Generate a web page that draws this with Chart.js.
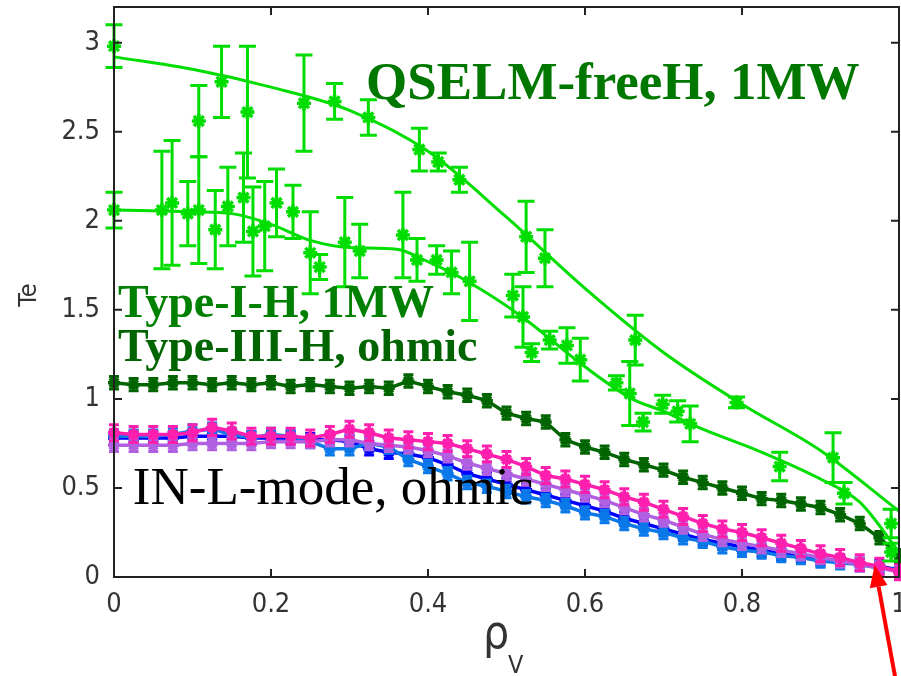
<!DOCTYPE html>
<html>
<head>
<meta charset="utf-8">
<script src="https://cdn.jsdelivr.net/npm/chart.js@4/dist/chart.umd.min.js"></script>
<style>
  html, body { margin: 0; padding: 0; background: #fff; }
  #wrap { width: 901px; height: 676px; }
</style>
</head>
<body>
<div id="wrap"><canvas id="teChart" width="901" height="676"></canvas></div>
<script>
// Perfis de Te vs rho_V
const xTicks = [0, 0.2, 0.4, 0.6, 0.8, 1];
const yTicks = [0, 0.5, 1, 1.5, 2, 2.5, 3];

// QSELM-free H-mode, 1MW (pontos com barras de erro + ajuste)
const rhoQselm = [0, 0.108, 0.137, 0.17, 0.242, 0.281, 0.324, 0.389, 0.413, 0.44, 0.525, 0.549, 0.664, 0.793, 0.916, 0.99];
const teQselm  = [2.98, 2.56, 2.78, 2.61, 2.66, 2.67, 2.58, 2.40, 2.33, 2.23, 1.91, 1.79, 1.33, 0.98, 0.67, 0.30];
const errQselm = [0.12, 0.20, 0.20, 0.37, 0.27, 0.10, 0.10, 0.12, 0.05, 0.07, 0.20, 0.16, 0.14, 0.03, 0.14, 0.08];
const rhoFitQselm = [0, 0.1, 0.2, 0.3, 0.4, 0.5, 0.6, 0.7, 0.8, 0.9, 1.0];
const teFitQselm  = [2.92, 2.85, 2.75, 2.62, 2.39, 2.02, 1.62, 1.26, 0.97, 0.71, 0.37];

// Type-I ELMy H-mode, 1MW
const rhoTypeI = [0, 0.061, 0.074, 0.094, 0.108, 0.129, 0.145, 0.165, 0.177, 0.192, 0.207, 0.228, 0.25, 0.262, 0.294, 0.313, 0.368, 0.386, 0.411, 0.43, 0.453, 0.508, 0.521, 0.532, 0.555, 0.577, 0.594, 0.64, 0.657, 0.674, 0.699, 0.718, 0.734, 0.848, 0.93, 0.99];
const teTypeI  = [2.06, 2.06, 2.10, 2.04, 2.06, 1.95, 2.08, 2.13, 1.94, 1.97, 2.10, 2.05, 1.82, 1.74, 1.88, 1.83, 1.92, 1.78, 1.78, 1.71, 1.66, 1.58, 1.46, 1.26, 1.33, 1.30, 1.22, 1.09, 1.03, 0.87, 0.97, 0.93, 0.86, 0.62, 0.47, 0.14];
const errTypeI = [0.10, 0.33, 0.35, 0.18, 0.30, 0.22, 0.22, 0.25, 0.25, 0.25, 0.19, 0.15, 0.23, 0.07, 0.25, 0.15, 0.24, 0.12, 0.08, 0.12, 0.22, 0.12, 0.17, 0.05, 0.05, 0.10, 0.12, 0.04, 0.18, 0.05, 0.05, 0.06, 0.10, 0.08, 0.06, 0.05];
const rhoFitTypeI = [0, 0.1, 0.15, 0.2, 0.25, 0.3, 0.36, 0.4, 0.45, 0.52, 0.6, 0.66, 0.7, 0.75, 0.82, 0.9, 0.95, 1.0];
const teFitTypeI  = [2.06, 2.05, 2.04, 1.98, 1.89, 1.85, 1.84, 1.77, 1.66, 1.46, 1.18, 1.00, 0.93, 0.83, 0.71, 0.55, 0.42, 0.14];

// perfis densos (ohmicos)
const rhoDense = [0, 0.025, 0.05, 0.075, 0.1, 0.125, 0.15, 0.175, 0.2, 0.225, 0.25, 0.275, 0.3, 0.325, 0.35, 0.375, 0.4, 0.425, 0.45, 0.475, 0.5, 0.525, 0.55, 0.575, 0.6, 0.625, 0.65, 0.675, 0.7, 0.725, 0.75, 0.775, 0.8, 0.825, 0.85, 0.875, 0.9, 0.925, 0.95, 0.975, 1];
const teTypeIII  = [1.09, 1.08, 1.08, 1.09, 1.09, 1.08, 1.09, 1.08, 1.09, 1.07, 1.08, 1.07, 1.06, 1.07, 1.06, 1.10, 1.07, 1.04, 1.02, 0.99, 0.92, 0.89, 0.87, 0.77, 0.73, 0.70, 0.66, 0.63, 0.60, 0.56, 0.53, 0.50, 0.47, 0.44, 0.43, 0.41, 0.39, 0.35, 0.30, 0.22, 0.12];
const teLPink    = [0.81, 0.80, 0.80, 0.80, 0.81, 0.84, 0.82, 0.79, 0.79, 0.79, 0.78, 0.80, 0.83, 0.81, 0.78, 0.77, 0.76, 0.75, 0.72, 0.69, 0.66, 0.62, 0.57, 0.55, 0.52, 0.49, 0.45, 0.42, 0.38, 0.34, 0.30, 0.27, 0.25, 0.22, 0.19, 0.16, 0.13, 0.11, 0.08, 0.06, 0.03];
const teLPurple  = [0.74, 0.74, 0.74, 0.74, 0.75, 0.75, 0.75, 0.75, 0.76, 0.76, 0.76, 0.77, 0.77, 0.75, 0.74, 0.73, 0.71, 0.68, 0.64, 0.61, 0.58, 0.55, 0.52, 0.49, 0.46, 0.43, 0.39, 0.35, 0.32, 0.28, 0.24, 0.21, 0.19, 0.17, 0.15, 0.13, 0.11, 0.09, 0.07, 0.05, 0.03];
const teLSky     = [0.79, 0.79, 0.79, 0.80, 0.82, 0.83, 0.80, 0.78, 0.80, 0.79, 0.76, 0.72, 0.72, 0.75, 0.73, 0.66, 0.62, 0.58, 0.53, 0.51, 0.48, 0.45, 0.43, 0.40, 0.36, 0.34, 0.30, 0.27, 0.25, 0.22, 0.20, 0.17, 0.15, 0.14, 0.12, 0.11, 0.09, 0.08, 0.07, 0.05, 0.04];
const teLBlue    = [0.78, 0.78, 0.78, 0.78, 0.79, 0.79, 0.79, 0.78, 0.78, 0.78, 0.77, 0.77, 0.76, 0.72, 0.70, 0.69, 0.67, 0.63, 0.58, 0.55, 0.52, 0.49, 0.46, 0.43, 0.40, 0.37, 0.33, 0.30, 0.27, 0.24, 0.21, 0.19, 0.17, 0.15, 0.13, 0.12, 0.10, 0.09, 0.07, 0.06, 0.04];
const errOhmic = 0.035;
const errPink = 0.045;

// textos e seta (coordenadas em rho, Te)
const labels = [
  { text: 'QSELM-freeH, 1MW', x: 0.321, y: 2.685, font: 'bold 53px "Liberation Serif"', color: '#007800' },
  { text: 'Type-I-H, 1MW', x: 0.005, y: 1.46, font: 'bold 46px "Liberation Serif"', color: '#008000' },
  { text: 'Type-III-H, ohmic', x: 0.005, y: 1.21, font: 'bold 46px "Liberation Serif"', color: '#006400' },
  { text: 'IN-L-mode, ohmic', x: 0.024, y: 0.41, font: '53px "Liberation Serif"', color: '#000' }
];
const arrowTail = { x: 0.995, y: -0.56 };
const arrowTip = { x: 0.969, y: 0.067 };

const LIGHT = '#00dd00';
const TICK_FONT = "'DejaVu Sans Condensed', 'DejaVu Sans', sans-serif";
const AXIS_TEXT = '#333';

function pts(rs, ts) { return rs.map((r, i) => ({ x: r, y: ts[i] })); }

function dense(label, ys, color, err, order) {
  return {
    label, data: pts(rhoDense, ys), order,
    borderColor: color, backgroundColor: color,
    borderWidth: 3.5, pointStyle: 'star', pointRadius: 6, pointBorderWidth: 3.5,
    tension: 0, clip: false, errors: err, capHalf: 5, errWidth: 3
  };
}

// barras de erro desenhadas logo depois de cada dataset
const errorBars = {
  id: 'errorBars',
  afterDatasetDraw(chart, args) {
    const ds = chart.data.datasets[args.index];
    if (ds.errors === undefined) return;
    const { ctx, scales: { x, y } } = chart;
    ctx.save();
    ctx.strokeStyle = ds.borderColor;
    ctx.lineWidth = ds.errWidth;
    const c = ds.capHalf;
    ds.data.forEach((p, i) => {
      const e = Array.isArray(ds.errors) ? ds.errors[i] : ds.errors;
      const px = x.getPixelForValue(p.x);
      const top = y.getPixelForValue(p.y + e);
      const bot = y.getPixelForValue(p.y - e);
      ctx.beginPath();
      ctx.moveTo(px, top); ctx.lineTo(px, bot);
      ctx.moveTo(px - c, top); ctx.lineTo(px + c, top);
      ctx.moveTo(px - c, bot); ctx.lineTo(px + c, bot);
      ctx.stroke();
    });
    ctx.restore();
  }
};

// moldura com ticks para dentro, titulos dos eixos, textos e seta
const frame = {
  id: 'frame',
  afterDraw(chart) {
    const { ctx, chartArea: a, scales: { x, y } } = chart;
    ctx.save();
    ctx.strokeStyle = '#222';
    ctx.lineWidth = 2;
    ctx.strokeRect(a.left, a.top, a.right - a.left, a.bottom - a.top);
    ctx.beginPath();
    xTicks.forEach(v => {
      const px = x.getPixelForValue(v);
      ctx.moveTo(px, a.bottom); ctx.lineTo(px, a.bottom - 8);
      ctx.moveTo(px, a.top); ctx.lineTo(px, a.top + 8);
    });
    yTicks.forEach(v => {
      const py = y.getPixelForValue(v);
      ctx.moveTo(a.left, py); ctx.lineTo(a.left + 8, py);
      ctx.moveTo(a.right, py); ctx.lineTo(a.right - 8, py);
    });
    ctx.stroke();

    // titulo do eixo x: rho com indice V
    ctx.fillStyle = AXIS_TEXT;
    ctx.textBaseline = 'alphabetic';
    ctx.textAlign = 'left';
    ctx.font = '46px ' + TICK_FONT;
    ctx.fillText('ρ', 483, 648);
    ctx.font = '25px ' + TICK_FONT;
    ctx.fillText('V', 508, 673);

    // titulo do eixo y
    ctx.save();
    ctx.translate(36, 295);
    ctx.rotate(-Math.PI / 2);
    ctx.textAlign = 'center';
    ctx.font = '25px ' + TICK_FONT;
    ctx.fillText('Te', 0, 0);
    ctx.restore();

    labels.forEach(l => {
      ctx.font = l.font;
      ctx.fillStyle = l.color;
      ctx.fillText(l.text, x.getPixelForValue(l.x), y.getPixelForValue(l.y));
    });

    // seta vermelha
    const tx = x.getPixelForValue(arrowTail.x), ty = y.getPixelForValue(arrowTail.y);
    const hx = x.getPixelForValue(arrowTip.x), hy = y.getPixelForValue(arrowTip.y);
    const ang = Math.atan2(hy - ty, hx - tx);
    const len = 22, half = 9;
    const bx = hx - len * Math.cos(ang), by = hy - len * Math.sin(ang);
    ctx.strokeStyle = '#f00';
    ctx.fillStyle = '#f00';
    ctx.lineWidth = 4;
    ctx.beginPath();
    ctx.moveTo(tx, ty); ctx.lineTo(bx, by);
    ctx.stroke();
    ctx.beginPath();
    ctx.moveTo(hx, hy);
    ctx.lineTo(bx + half * Math.sin(ang), by - half * Math.cos(ang));
    ctx.lineTo(bx - half * Math.sin(ang), by + half * Math.cos(ang));
    ctx.closePath();
    ctx.fill();
    ctx.restore();
  }
};

function fixBox(size) {
  return (s) => {
    if (s.isHorizontal()) s.height = size; else s.width = size;
    s.paddingLeft = 0; s.paddingRight = 0; s.paddingTop = 0; s.paddingBottom = 0;
  };
}

new Chart(document.getElementById('teChart'), {
  type: 'line',
  data: {
    datasets: [
      {
        label: 'QSELM fit', data: pts(rhoFitQselm, teFitQselm), order: 0,
        borderColor: LIGHT, borderWidth: 3, pointRadius: 0,
        cubicInterpolationMode: 'monotone', clip: false
      },
      {
        label: 'QSELM-freeH, 1MW', data: pts(rhoQselm, teQselm), order: 1,
        showLine: false, borderColor: LIGHT, backgroundColor: LIGHT,
        pointStyle: 'star', pointRadius: 7, pointBorderWidth: 3.5, clip: false,
        errors: errQselm, capHalf: 8.5, errWidth: 3
      },
      {
        label: 'Type-I fit', data: pts(rhoFitTypeI, teFitTypeI), order: 2,
        borderColor: LIGHT, borderWidth: 3, pointRadius: 0,
        cubicInterpolationMode: 'monotone', clip: false
      },
      {
        label: 'Type-I-H, 1MW', data: pts(rhoTypeI, teTypeI), order: 3,
        showLine: false, borderColor: LIGHT, backgroundColor: LIGHT,
        pointStyle: 'star', pointRadius: 7, pointBorderWidth: 3.5, clip: false,
        errors: errTypeI, capHalf: 8.5, errWidth: 3
      },
      dense('Type-III-H, ohmic', teTypeIII, '#006400', errOhmic, 4),
      dense('L-mode pink', teLPink, '#ff1fae', errPink, 5),
      dense('L-mode purple', teLPurple, '#b060e0', errOhmic, 6),
      dense('L-mode sky', teLSky, '#0a78e8', errOhmic, 7),
      dense('L-mode blue', teLBlue, '#0000ff', errOhmic, 8)
    ]
  },
  options: {
    responsive: false,
    animation: false,
    events: [],
    layout: { autoPadding: false, padding: { top: 7, right: 2, left: 0, bottom: 0 } },
    plugins: { legend: { display: false }, tooltip: { enabled: false } },
    scales: {
      x: {
        type: 'linear', min: 0, max: 1,
        grid: { display: false, drawTicks: false },
        border: { display: false },
        afterBuildTicks: (s) => { s.ticks = xTicks.map(v => ({ value: v })); },
        afterFit: fixBox(99),
        ticks: {
          padding: 12, color: AXIS_TEXT, maxRotation: 0, autoSkip: false,
          font: { family: TICK_FONT, size: 27 },
          callback: (v) => String(v)
        }
      },
      y: {
        type: 'linear', min: 0, max: 3.2,
        grid: { display: false, drawTicks: false },
        border: { display: false },
        afterBuildTicks: (s) => { s.ticks = yTicks.map(v => ({ value: v })); },
        afterFit: fixBox(114),
        ticks: {
          padding: 14, color: AXIS_TEXT, autoSkip: false,
          font: { family: TICK_FONT, size: 27 },
          callback: (v) => String(v)
        }
      }
    }
  },
  plugins: [errorBars, frame]
});
</script>
</body>
</html>
